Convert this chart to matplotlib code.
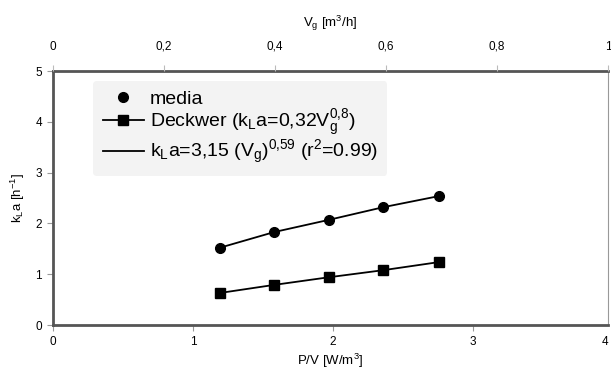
import matplotlib
matplotlib.use("Agg")
import matplotlib.pyplot as plt

plt.rcParams['font.family'] = ['Liberation Sans', 'DejaVu Sans']
plt.rcParams['mathtext.fontset'] = 'custom'
plt.rcParams['mathtext.rm'] = 'Liberation Sans'
plt.rcParams['mathtext.it'] = 'Liberation Sans'

# data
pv = [1.19, 1.58, 1.97, 2.36, 2.76]          # P/V [W/m3]
media = [1.52, 1.83, 2.07, 2.32, 2.54]       # measured kLa
fit = [1.52, 1.83, 2.07, 2.32, 2.54]         # fitted curve kLa=3,15 Vg^0,59
deckwer = [0.63, 0.79, 0.94, 1.08, 1.24]     # Deckwer correlation

bottom_ticks = [0, 1, 2, 3]
top_ticks = [0, 0.2, 0.4, 0.6, 0.8, 1]
top_labels = ['0', '0,2', '0,4', '0,6', '0,8', '1']
y_ticks = [0, 1, 2, 3, 4, 5]

axis_col = '#555555'

fig = plt.figure(figsize=(6.11, 3.84), dpi=100)
ax = fig.add_axes([0.0867, 0.1536, 0.9083, 0.6614])

ax.plot(pv, fit, color='black', lw=1.3, zorder=2,
        label=r'k$_{\rm L}$a=3,15 (V$_{\rm g}$)$^{0{,}59}$ (r$^2$=0.99)')
ax.plot(pv, media, 'o', color='black', ms=7, zorder=3, label='media')
ax.plot(pv, deckwer, '-s', color='black', lw=1.3, ms=7, zorder=3,
        label=r'Deckwer (k$_{\rm L}$a=0,32V$_{\rm g}^{0{,}8}$)')

ax.set_xlim(0, 3.964)
ax.set_ylim(0, 5)
ax.set_xticks(bottom_ticks)
ax.set_yticks(y_ticks)
ax.tick_params(labelsize=8.5, length=4, color='#999999', width=0.8, pad=4)
ax.set_xlabel(r'P/V [W/m$^3$]', fontsize=9.5, labelpad=3)
ax.set_ylabel(r'k$_{\rm L}$a [h$^{-1}$]', fontsize=9.5, labelpad=6)
# the "4" tick label sits at the very edge of the picture
ax.text(1.0, -0.044, '4', fontsize=8.5, ha='right', va='top',
        transform=ax.transAxes, clip_on=False)

for side in ['left', 'bottom', 'top']:
    ax.spines[side].set_color(axis_col)
    ax.spines[side].set_linewidth(2)
ax.spines['right'].set_color('#999999')
ax.spines['right'].set_linewidth(0.8)

top = ax.twiny()
top.set_xlim(0, 1)
top.set_xticks(top_ticks)
top.set_xticklabels(top_labels)
top.tick_params(labelsize=8.5, length=4, color='#bbbbbb', width=0.8, pad=9)
top.set_xlabel(r'V$_{\rm g}$ [m$^3$/h]', fontsize=9.5, labelpad=10)
for side in top.spines:
    top.spines[side].set_visible(False)

handles, labels = ax.get_legend_handles_labels()
order = [1, 2, 0]
leg = ax.legend([handles[i] for i in order], [labels[i] for i in order],
                loc='upper left', bbox_to_anchor=(0.055, 1.0),
                fontsize=14, frameon=True, handlelength=2.1,
                handletextpad=0.3, labelspacing=0.0, borderpad=0.5)
leg.get_frame().set_facecolor('#f3f3f3')
leg.get_frame().set_edgecolor('none')
leg.get_frame().set_alpha(1)

fig.savefig('out.png', dpi=100)
